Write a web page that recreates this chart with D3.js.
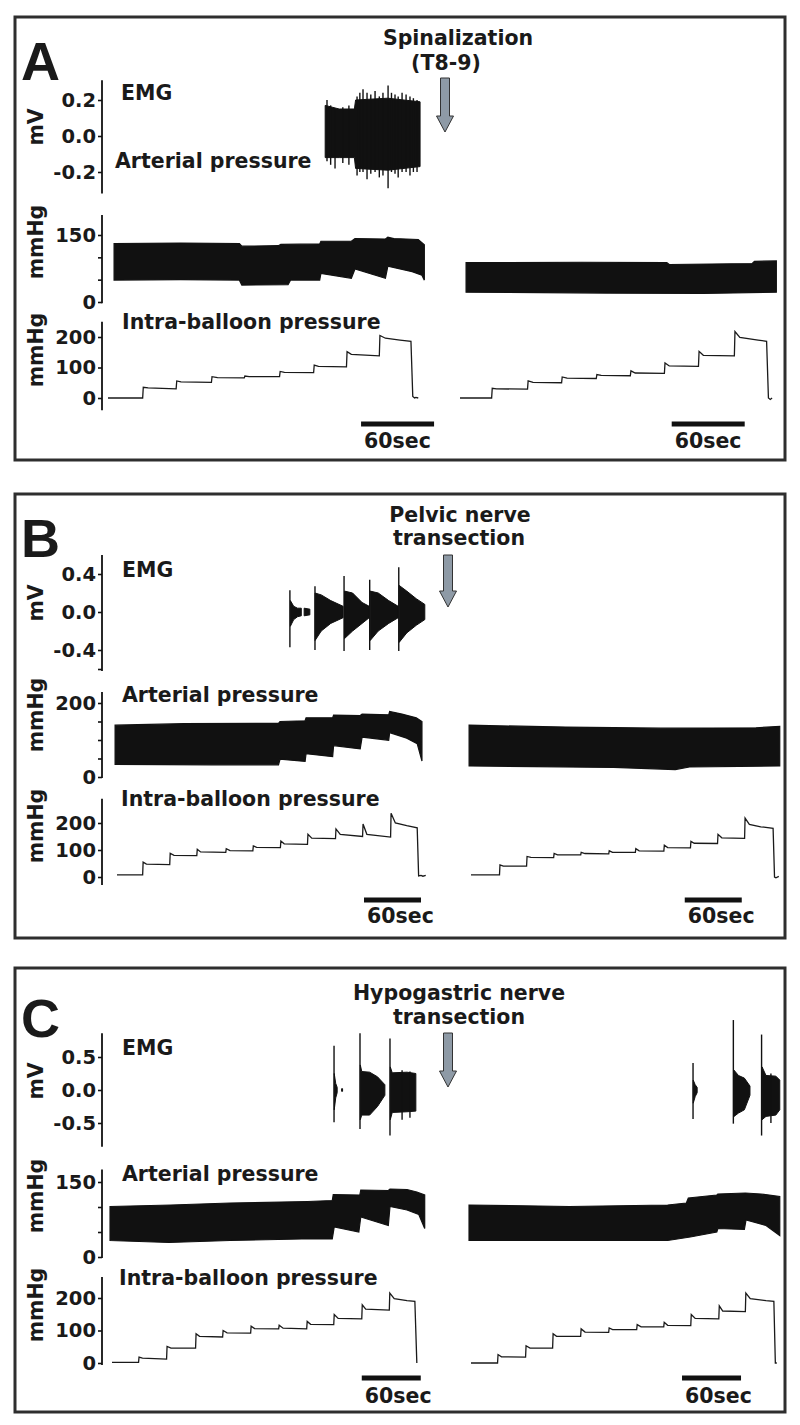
<!DOCTYPE html>
<html>
<head>
<meta charset="utf-8">
<script src="https://cdn.jsdelivr.net/npm/d3@7"></script>
<style>
body { margin: 0; background: #fff; }
text { font-family: "DejaVu Sans", sans-serif; font-weight: bold; fill: #1a1a1a; }
.tick-label { font-size: 19.5px; }
.big { font-family: "Liberation Sans", Arial, sans-serif; font-size: 54px; }
.lbl { font-size: 20.5px; }
</style>
</head>
<body>
<script>
// ---- labels ----
var panelLetters = ['A', 'B', 'C'];
var eventLabels = [['Spinalization', '(T8-9)'], ['Pelvic nerve', 'transection'], ['Hypogastric nerve', 'transection']];
var channelNames = ['EMG', 'Arterial pressure', 'Intra-balloon pressure'];
var channelUnits = ['mV', 'mmHg', 'mmHg'];
var scaleBarSec = 60;

// ---- tick values ----
var aEmgTicks = [-0.2, 0, 0.2], aEmgMinor = [];
var aArtTicks = [0, 150], aArtMinor = [50, 100];
var aBalTicks = [0, 100, 200];
var bEmgTicks = [-0.4, 0, 0.4], bEmgMinor = [-0.6];
var bArtTicks = [0, 200], bArtMinor = [50, 100, 150];
var bBalTicks = [0, 100, 200];
var cEmgTicks = [-0.5, 0, 0.5], cEmgMinor = [];
var cArtTicks = [0, 150], cArtMinor = [50, 100];
var cBalTicks = [0, 100, 200];

// ---- A: spinalization. time in s, [t, mmHg] ----
var aPreBalloon = [[0,0],[28.5,0],[29,35],[33,33],[56,30],[56.5,56],[60,53],[85,51],[85.5,70],[90,67],[112,66],[112.5,72],[116,70],[141,70],[141.5,87],[145,84],[169,83],[169.5,108],[173,104],[196,102],[196.5,152],[200,143],[223,138],[223.5,205],[228,196],[240,190],[249,186],[250.5,5],[252,0],[253,2],[255,0]];
var aPostBalloon = [[0,0],[26,0],[26.5,32],[30,30],[55.5,29],[56,56],[60,51],[83.5,50],[84,69],[88,65],[112,64],[112.5,77],[116,74],[140,73],[140.5,89],[144,82],[168,81],[168.5,115],[172,105],[196,104],[196.5,153],[200,140],[225.5,138],[226,218],[230,199],[245,190],[252,186],[253.5,0],[255,-5],[256.5,0]];
var aPreArtUpper = [[5,131],[60,132],[108,131],[110,125],[140,126],[142,129],[174,130],[175,136],[200,136],[203,142],[228,141],[230,145],[235,142],[255,140],[258,133],[260,128]];
var aPreArtLower = [[5,49],[60,50],[108,49],[110,38],[148,39],[150,49],[174,49],[175,64],[200,53],[203,74],[228,53],[230,80],[250,68],[258,60],[260,49]];
var aPostArtUpper = [[5,88],[100,89],[170,88],[172,84],[240,86],[242,91],[260,92]];
var aPostArtLower = [[5,22],[120,20],[200,19],[260,22]];
// EMG envelope [t, hi, lo] in mV and single spikes
var aPreEmgBand = [[[178.5,0.17,-0.12],[190,0.15,-0.12],[202.5,0.15,-0.12],[203.5,0.2,-0.18],[230,0.21,-0.19],[256.5,0.19,-0.17]]];
var aPreEmgSpikes = [[180,0.2,-0.14],[183,0.17,-0.16],[186.6,0.15,-0.18],[193,0.16,-0.15],[198,0.17,-0.16],
  [204.7,0.22,-0.22],[207,0.24,-0.2],[209.6,0.26,-0.2],[212.9,0.24,-0.24],[216,0.23,-0.21],[219.5,0.25,-0.2],
  [223,0.22,-0.23],[226,0.24,-0.22],[230.2,0.28,-0.29],[233,0.24,-0.2],[235.9,0.23,-0.21],[238.5,0.22,-0.23],
  [241.7,0.24,-0.2],[245,0.23,-0.2],[248.2,0.22,-0.22],[251,0.21,-0.2],[254,0.2,-0.2]];
var aPostEmgBand = [], aPostEmgSpikes = [];

// ---- B: pelvic nerve transection ----
var bPreBalloon = [[0,8],[27,8],[27.5,55],[31,48],[55.5,46],[56,88],[60,80],[84,79],[84.5,103],[88,93],[114.5,91],[115,105],[119,98],[143,97],[143.5,115],[147,110],[172,109],[172.5,133],[176,123],[200.5,121],[201,158],[205,144],[230,142],[230.5,178],[235,158],[258.5,150],[259,196],[263,158],[288,148],[288.5,236],[293,200],[305,190],[316,182],[317.5,4],[320,6],[322,3],[325,6]];
var bPostBalloon = [[0,8],[30,8],[30.5,45],[34,40],[58.5,40],[59,76],[63,73],[87,72],[87.5,87],[91,82],[115.5,82],[116,91],[120,87],[145,86],[145.5,97],[149,91],[173,91],[173.5,105],[177,97],[203,96],[203.5,118],[207,109],[231,108],[231.5,132],[235,125],[259.5,124],[260,158],[264,145],[288,143],[288.5,218],[293,195],[305,186],[318,180],[319.5,0],[321,-3],[324,2]];
var bPreArtUpper = [[-2,140],[70,144],[170,145],[171.6,150],[198,152],[199,160],[227,160],[228,167],[256,166],[258,170],[286,168],[287,177],[300,170],[315,160],[321,150]];
var bPreArtLower = [[-2,34],[100,33],[170,33],[171.6,48],[198,42],[199,63],[227,55],[228,85],[256,76],[258,108],[286,99],[287,120],[305,105],[316,90],[321,43]];
var bPostArtUpper = [[-2,140],[100,135],[200,132],[300,133],[325,137]];
var bPostArtLower = [[-2,30],[150,26],[215,20],[230,27],[325,30]];
var bPreEmgBand = [
  [[182.5,0.12,-0.15],[186,0.06,-0.08],[190,0.04,-0.05],[194,0.04,-0.04]],
  [[197,0.04,-0.04],[203,0.03,-0.03]],
  [[208.5,0.2,-0.3],[215,0.18,-0.2],[225,0.12,-0.12],[238,0.06,-0.06]],
  [[239.5,0.22,-0.28],[248,0.2,-0.2],[258,0.1,-0.12],[265.5,0.06,-0.06]],
  [[266.5,0.22,-0.3],[275,0.2,-0.2],[286,0.12,-0.12],[296,0.06,-0.06]],
  [[297,0.28,-0.32],[305,0.22,-0.22],[315,0.14,-0.14],[324,0.08,-0.08]]
];
var bPreEmgSpikes = [[182,0.23,-0.37],[208.4,0.27,-0.4],[239,0.38,-0.41],[266,0.34,-0.4],[296.6,0.47,-0.41]];
var bPostEmgBand = [], bPostEmgSpikes = [];

// ---- C: hypogastric nerve transection ----
var cPreBalloon = [[0,2],[27,2],[27.5,18],[31,15],[55.5,12],[56,51],[60,46],[85,46],[85.5,90],[89,82],[112.5,80],[113,100],[117,93],[141,92],[141.5,113],[145,106],[169.5,105],[170,116],[174,107],[198,105],[198.5,128],[202,119],[225.5,118],[226,149],[230,137],[254,136],[254.5,179],[258,166],[282,163],[282.5,215],[287,198],[300,192],[308,190],[310,0]];
var cPostBalloon = [[0,0],[27,0],[27.5,26],[31,19],[55.5,18],[56,53],[60,46],[83,46],[83.5,90],[87,82],[111.5,82],[112,105],[116,95],[140,94],[140.5,108],[144,103],[168.5,103],[169,118],[173,111],[196,111],[196.5,125],[200,116],[223.5,115],[224,149],[228,137],[252,136],[252.5,176],[256,160],[279,158],[279.5,215],[284,198],[300,192],[308,190],[309.5,0],[311,0]];
var cPreArtUpper = [[-2,101],[60,104],[120,108],[199,111],[224,113],[225,125],[252,124],[253,134],[281,133],[282.7,136],[300,135],[310,130],[318,124]];
var cPreArtLower = [[-2,33],[58,29],[120,33],[193,36],[224,36],[226,60],[251,50],[253,80],[281,63],[282.7,101],[300,94],[312,85],[318,57]];
var cPostArtUpper = [[-2,104],[100,101],[200,104],[219,108],[221,118],[250,124],[251,126],[279,128],[295,126],[314,121]];
var cPostArtLower = [[-2,33],[100,33],[200,33],[223,40],[250,50],[251,57],[278,55],[279.7,74],[300,63],[314,43]];
var cPreEmgBand = [
  [[226,0.25,-0.3],[227.5,0.1,-0.12],[229,0.04,-0.04]],
  [[233.5,0.02,-0.02],[234.5,0.02,-0.02]],
  [[252.5,0.38,-0.45],[254,0.28,-0.38],[262,0.27,-0.38],[270,0.2,-0.25],[277.5,0.08,-0.08]],
  [[283,0.35,-0.45],[285,0.26,-0.34],[300,0.27,-0.33],[309,0.25,-0.32]]
];
var cPreEmgSpikes = [[225.8,0.67,-0.49],[252.2,0.86,-0.59],[282.7,0.78,-0.69],[295,0.3,-0.45],[303,0.28,-0.42]];
var cPostEmgBand = [
  [[226,0.15,-0.2],[228,0.08,-0.1],[230,0.04,-0.04]],
  [[267.5,0.3,-0.4],[272,0.22,-0.35],[278,0.18,-0.3],[283.7,0.06,-0.08]],
  [[296,0.35,-0.45],[300,0.22,-0.4],[310,0.21,-0.38],[314,0.15,-0.3]]
];
var cPostEmgSpikes = [[225.8,0.41,-0.44],[266.8,1.06,-0.51],[295.5,0.84,-0.69],[305,0.25,-0.5]];

// ---- layout (pixels) ----
var layout = [
  { top: 17, bottom: 460, letterY: 80, eventX: [458, 446], eventY: [45, 70], arrowY: [78, 132],
    x0: [108, 460], px60: 73, barT: [208, 174], barY: 424, barLabelY: 448,
    emg: { y: [172, 100], ext: [-0.32, 0.31], unitY: 127, nameX: 121, nameY: 100 },
    art: { y: [302, 235], ext: [-3, 195], unitY: 242, nameX: 115, nameY: 168 },
    bal: { y: [398, 337], ext: [-40, 250], unitY: 350, nameX: 122, nameY: 329 } },
  { top: 494, bottom: 938, letterY: 557, eventX: [460, 459], eventY: [522, 545], arrowY: [555, 607],
    x0: [117, 471], px60: 57, barT: [260, 225], barY: 900, barLabelY: 923,
    emg: { y: [650, 574], ext: [-0.62, 0.6], unitY: 603, nameX: 122, nameY: 577 },
    art: { y: [777, 703], ext: [-3, 230], unitY: 715, nameX: 122, nameY: 702 },
    bal: { y: [877, 823], ext: [-30, 290], unitY: 826, nameX: 121, nameY: 806 } },
  { top: 968, bottom: 1412, letterY: 1037, eventX: [459, 459], eventY: [1000, 1024], arrowY: [1033, 1087],
    x0: [112, 471], px60: 59, barT: [254, 214.6], barY: 1378, barLabelY: 1403,
    emg: { y: [1123, 1057], ext: [-0.86, 0.86], unitY: 1081, nameX: 122, nameY: 1055 },
    art: { y: [1257, 1182], ext: [-2, 175], unitY: 1196, nameX: 122, nameY: 1181 },
    bal: { y: [1363, 1298], ext: [-6, 265], unitY: 1305, nameX: 119, nameY: 1285 } }
];
var axisX = 102;

var panels = [
  { emgTicks: aEmgTicks, emgMinor: aEmgMinor, artTicks: aArtTicks, artMinor: aArtMinor, balTicks: aBalTicks,
    balloon: [aPreBalloon, aPostBalloon], artUpper: [aPreArtUpper, aPostArtUpper], artLower: [aPreArtLower, aPostArtLower],
    emgBand: [aPreEmgBand, aPostEmgBand], emgSpikes: [aPreEmgSpikes, aPostEmgSpikes] },
  { emgTicks: bEmgTicks, emgMinor: bEmgMinor, artTicks: bArtTicks, artMinor: bArtMinor, balTicks: bBalTicks,
    balloon: [bPreBalloon, bPostBalloon], artUpper: [bPreArtUpper, bPostArtUpper], artLower: [bPreArtLower, bPostArtLower],
    emgBand: [bPreEmgBand, bPostEmgBand], emgSpikes: [bPreEmgSpikes, bPostEmgSpikes] },
  { emgTicks: cEmgTicks, emgMinor: cEmgMinor, artTicks: cArtTicks, artMinor: cArtMinor, balTicks: cBalTicks,
    balloon: [cPreBalloon, cPostBalloon], artUpper: [cPreArtUpper, cPostArtUpper], artLower: [cPreArtLower, cPostArtLower],
    emgBand: [cPreEmgBand, cPostEmgBand], emgSpikes: [cPreEmgSpikes, cPostEmgSpikes] }
];

var svg = d3.select('body').append('svg')
    .attr('width', 800)
    .attr('height', 1425);

panels.forEach(function (p, i) { drawPanel(p, layout[i], i); });

function yScale(ticks, yRange) {
    return d3.scaleLinear()
        .domain([ticks[0], ticks[ticks.length - 1]])
        .range(yRange);
}

function drawAxis(g, y, ticks, minor, ext, fmt) {
    var ax = g.append('g').attr('transform', 'translate(' + axisX + ',0)');
    ax.call(d3.axisLeft(y).tickValues(ticks).tickSize(4).tickPadding(2).tickFormat(fmt));
    if (minor.length) {
        ax.append('g').call(d3.axisLeft(y).tickValues(minor).tickSize(4).tickFormat(''))
            .select('.domain').remove();
    }
    ax.select('.domain').remove();
    ax.attr('font-size', null).attr('font-family', null);
    ax.selectAll('.tick text').attr('class', 'tick-label');
    ax.selectAll('.tick line').attr('stroke', '#111').attr('stroke-width', 1.6);
    ax.append('line')
        .attr('x1', 0).attr('x2', 0)
        .attr('y1', y(ext[0])).attr('y2', y(ext[1]))
        .attr('stroke', '#111').attr('stroke-width', 1.8);
}

function unitLabel(g, text, cy) {
    g.append('text')
        .attr('class', 'lbl')
        .attr('text-anchor', 'middle')
        .attr('transform', 'translate(43,' + cy + ') rotate(-90)')
        .text(text);
}

function drawPanel(p, L, i) {
    var g = svg.append('g');

    g.append('rect')
        .attr('x', 15).attr('y', L.top)
        .attr('width', 770).attr('height', L.bottom - L.top)
        .attr('fill', 'none').attr('stroke', '#2e2e2e').attr('stroke-width', 3);

    g.append('text').attr('class', 'big').attr('x', 21).attr('y', L.letterY).text(panelLetters[i]);

    eventLabels[i].forEach(function (t, k) {
        g.append('text').attr('class', 'lbl').attr('text-anchor', 'middle')
            .attr('x', L.eventX[k]).attr('y', L.eventY[k]).text(t);
    });

    // arrow
    var ax = 445 + (i > 0 ? 3 : 0), a0 = L.arrowY[0], a1 = L.arrowY[1], head = 16;
    g.append('path')
        .attr('d', 'M' + (ax - 4.5) + ',' + a0 + 'H' + (ax + 4.5) + 'V' + (a1 - head) + 'H' + (ax + 8.5) +
            'L' + ax + ',' + a1 + 'L' + (ax - 8.5) + ',' + (a1 - head) + 'H' + (ax - 4.5) + 'Z')
        .attr('fill', '#8e9aa6').attr('stroke', '#333').attr('stroke-width', 1);

    var yEmg = yScale(p.emgTicks, L.emg.y);
    var yArt = yScale(p.artTicks, L.art.y);
    var yBal = yScale(p.balTicks, L.bal.y);

    drawAxis(g, yEmg, p.emgTicks, p.emgMinor, L.emg.ext, function (d) { return d.toFixed(1); });
    drawAxis(g, yArt, p.artTicks, p.artMinor, L.art.ext, d3.format('d'));
    drawAxis(g, yBal, p.balTicks, [], L.bal.ext, d3.format('d'));

    unitLabel(g, channelUnits[0], L.emg.unitY);
    unitLabel(g, channelUnits[1], L.art.unitY);
    unitLabel(g, channelUnits[2], L.bal.unitY);

    g.append('text').attr('class', 'lbl').attr('x', L.emg.nameX).attr('y', L.emg.nameY).text(channelNames[0]);
    g.append('text').attr('class', 'lbl').attr('x', L.art.nameX).attr('y', L.art.nameY).text(channelNames[1]);
    g.append('text').attr('class', 'lbl').attr('x', L.bal.nameX).attr('y', L.bal.nameY).text(channelNames[2]);

    [0, 1].forEach(function (s) {
        var x = d3.scaleLinear().domain([0, scaleBarSec]).range([L.x0[s], L.x0[s] + L.px60]);

        // arterial pressure band (upper and lower envelope of the pulses)
        var pts = p.artUpper[s].concat(p.artLower[s].slice().reverse());
        g.append('path')
            .attr('d', d3.line().x(function (d) { return x(d[0]); }).y(function (d) { return yArt(d[1]); })(pts) + 'Z')
            .attr('fill', '#111').attr('stroke', '#111').attr('stroke-width', 1.2);

        // balloon pressure
        g.append('path')
            .datum(p.balloon[s])
            .attr('d', d3.line().x(function (d) { return x(d[0]); }).y(function (d) { return yBal(d[1]); }))
            .attr('fill', 'none').attr('stroke', '#1a1a1a').attr('stroke-width', 1.3);

        // EMG bursts
        var area = d3.area()
            .x(function (d) { return x(d[0]); })
            .y0(function (d) { return yEmg(d[2]); })
            .y1(function (d) { return yEmg(d[1]); });
        g.selectAll(null).data(p.emgBand[s]).enter().append('path')
            .attr('d', area)
            .attr('fill', '#111').attr('stroke', '#111').attr('stroke-width', 1);
        g.selectAll(null).data(p.emgSpikes[s]).enter().append('line')
            .attr('x1', function (d) { return x(d[0]); }).attr('x2', function (d) { return x(d[0]); })
            .attr('y1', function (d) { return yEmg(d[1]); }).attr('y2', function (d) { return yEmg(d[2]); })
            .attr('stroke', '#111').attr('stroke-width', 1.4);

        // 60 s scale bar
        g.append('rect')
            .attr('x', x(L.barT[s])).attr('y', L.barY - 2.5)
            .attr('width', x(L.barT[s] + scaleBarSec) - x(L.barT[s])).attr('height', 5)
            .attr('fill', '#111');
        g.append('text').attr('class', 'lbl')
            .attr('x', x(L.barT[s]) + 3).attr('y', L.barLabelY)
            .text(scaleBarSec + 'sec');
    });
}
</script>
</body>
</html>
